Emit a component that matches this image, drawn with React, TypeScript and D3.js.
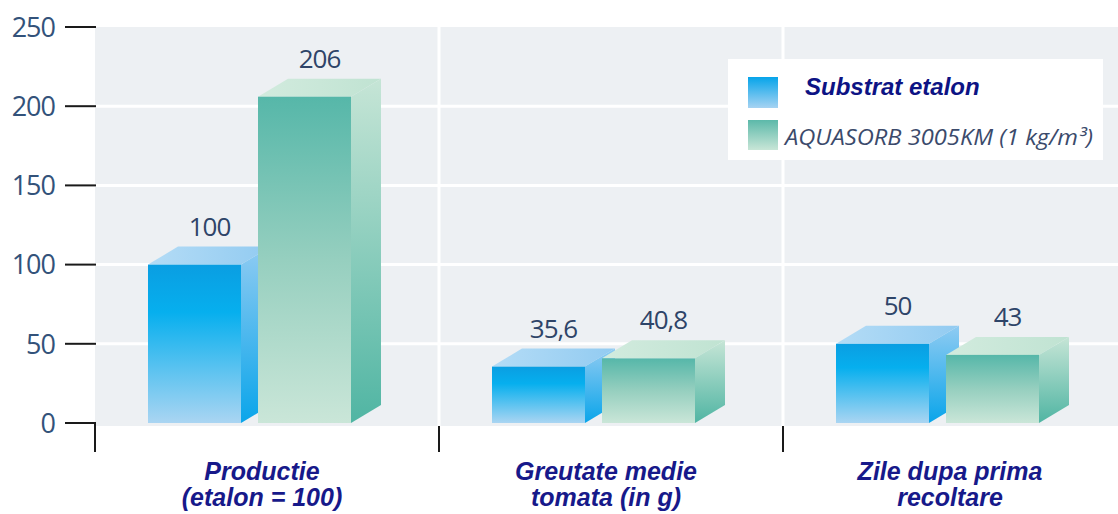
import React from "react";
import * as d3 from "d3";

const categories = ["Productie", "Greutate medie", "Zile dupa prima"];
const categoryLine2 = ["(etalon = 100)", "tomata (in g)", "recoltare"];
const seriesNames = ["Substrat etalon", "AQUASORB 3005KM (1 kg/m³)"];
const etalonValues = [100, 35.6, 50];
const aquasorbValues = [206, 40.8, 43];
const etalonLabels = ["100", "35,6", "50"];
const aquasorbLabels = ["206", "40,8", "43"];
const yTicks = [0, 50, 100, 150, 200, 250];

const W = 1118;
const H = 514;
const DX = 30;
const DY = 18;

export default function App() {
  const y = d3.scaleLinear().domain([0, 250]).range([423, 27]);
  const x = d3.scaleBand<string>().domain(categories).range([95, 1127]);
  const sub = d3
    .scaleBand<string>()
    .domain(seriesNames)
    .range([53, 256])
    .paddingInner(17 / 110);
  const bw = sub.bandwidth();
  const series = [
    { name: seriesNames[0], values: etalonValues, labels: etalonLabels, key: "b" },
    { name: seriesNames[1], values: aquasorbValues, labels: aquasorbLabels, key: "g" },
  ];
  const y0 = y(0);
  const numFont = "'Open Sans', sans-serif";
  const numColor = "#2e4468";
  const tickColor = "#33527a";

  return (
    <svg
      width={W}
      height={H}
      style={{ position: "absolute", left: 0, top: 0, background: "#fff" }}
    >
      <defs>
        <linearGradient id="bFront" x1="0" y1="0" x2="0" y2="1">
          <stop offset="0" stopColor="#0a9ee2" />
          <stop offset="0.3" stopColor="#06afee" />
          <stop offset="1" stopColor="#aad5f2" />
        </linearGradient>
        <linearGradient id="bSide" x1="0" y1="0" x2="0" y2="1">
          <stop offset="0" stopColor="#8fcbf2" />
          <stop offset="1" stopColor="#0aa5ea" />
        </linearGradient>
        <linearGradient id="bTop" x1="0" y1="0" x2="1" y2="0">
          <stop offset="0" stopColor="#b4dcf6" />
          <stop offset="1" stopColor="#92cbf1" />
        </linearGradient>
        <linearGradient id="gFront" x1="0" y1="0" x2="0" y2="1">
          <stop offset="0" stopColor="#56b7a9" />
          <stop offset="0.5" stopColor="#96cfbf" />
          <stop offset="1" stopColor="#cae6d8" />
        </linearGradient>
        <linearGradient id="gSide" x1="0" y1="0" x2="0" y2="1">
          <stop offset="0" stopColor="#c6e5d6" />
          <stop offset="1" stopColor="#50b5a3" />
        </linearGradient>
        <linearGradient id="gTop" x1="0" y1="0" x2="1" y2="0">
          <stop offset="0" stopColor="#d2ebde" />
          <stop offset="1" stopColor="#c0e3d2" />
        </linearGradient>
        <linearGradient id="bSwatch" x1="0" y1="0" x2="0" y2="1">
          <stop offset="0" stopColor="#06a4ea" />
          <stop offset="1" stopColor="#a6d3f2" />
        </linearGradient>
        <linearGradient id="gSwatch" x1="0" y1="0" x2="0" y2="1">
          <stop offset="0" stopColor="#5cb9aa" />
          <stop offset="1" stopColor="#c8e6d7" />
        </linearGradient>
      </defs>

      {/* plot background */}
      <rect x={95} y={y(250)} width={W - 95} height={y0 + 3 - y(250)} fill="#edf0f3" />
      {yTicks
        .filter((t) => t > 0 && t < 250)
        .map((t) => (
          <line key={t} x1={95} x2={W} y1={y(t)} y2={y(t)} stroke="#fff" strokeWidth={3} />
        ))}
      {categories.slice(1).map((c) => (
        <line
          key={c}
          x1={x(c)!}
          x2={x(c)!}
          y1={y(250)}
          y2={y0 + 3}
          stroke="#fff"
          strokeWidth={3}
        />
      ))}

      {/* y axis ticks */}
      {yTicks.map((t) => (
        <g key={t}>
          <line x1={65} x2={96} y1={y(t)} y2={y(t)} stroke="#1a1a1a" strokeWidth={2} />
          <text
            x={55}
            y={y(t)}
            dy="0.36em"
            textAnchor="end"
            fontFamily={numFont}
            fontSize={27}
            letterSpacing={-1}
            fill={tickColor}
          >
            {t}
          </text>
        </g>
      ))}
      <line x1={95} x2={95} y1={y0 - 1} y2={452} stroke="#1a1a1a" strokeWidth={2} />
      {categories.slice(1).map((c) => (
        <line key={c} x1={x(c)!} x2={x(c)!} y1={426} y2={452} stroke="#1a1a1a" strokeWidth={2} />
      ))}

      {/* bars */}
      {categories.map((c, i) => (
        <g key={c}>
          {series.map((s) => {
            const bx = x(c)! + sub(s.name)!;
            const by = y(s.values[i]);
            const top = `${bx},${by} ${bx + bw},${by} ${bx + bw + DX},${by - DY} ${bx + DX},${by - DY}`;
            const side = `${bx + bw},${by} ${bx + bw + DX},${by - DY} ${bx + bw + DX},${y0 - DY} ${bx + bw},${y0}`;
            return (
              <g key={s.key}>
                <polygon points={top} fill={`url(#${s.key}Top)`} />
                <polygon points={side} fill={`url(#${s.key}Side)`} />
                <rect x={bx} y={by} width={bw} height={y0 - by} fill={`url(#${s.key}Front)`} />
                <text
                  x={bx + bw / 2 + DX / 2}
                  y={by - DY - 11}
                  textAnchor="middle"
                  fontFamily={numFont}
                  fontSize={26}
                  letterSpacing={-1}
                  fill={numColor}
                >
                  {s.labels[i]}
                </text>
              </g>
            );
          })}
        </g>
      ))}

      {/* category labels */}
      {categories.map((c, i) => {
        const cx = x(c)! + x.bandwidth() / 2 - 5;
        return (
          <g
            key={c}
            fontFamily="'Liberation Sans', Arial, sans-serif"
            fontWeight="bold"
            fontStyle="italic"
            fontSize={25}
            fill="#17198a"
            textAnchor="middle"
          >
            <text x={cx} y={480}>
              {c}
            </text>
            <text x={cx} y={506}>
              {categoryLine2[i]}
            </text>
          </g>
        );
      })}

      {/* legend */}
      <rect x={728} y={59} width={375} height={101} fill="#fff" />
      <rect x={748} y={77} width={30} height={31} fill="url(#bSwatch)" />
      <rect x={748} y={120} width={30} height={30} fill="url(#gSwatch)" />
      <text
        x={805}
        y={95}
        fontFamily="'Liberation Sans', Arial, sans-serif"
        fontWeight="bold"
        fontStyle="italic"
        fontSize={24}
        fill="#0d1384"
      >
        {seriesNames[0]}
      </text>
      <text
        x={785}
        y={145}
        fontFamily="'Open Sans', sans-serif"
        fontStyle="italic"
        fontSize={21}
        fill="#3b4a6b"
        textLength={308}
        lengthAdjust="spacingAndGlyphs"
      >
        {seriesNames[1]}
      </text>
    </svg>
  );
}
